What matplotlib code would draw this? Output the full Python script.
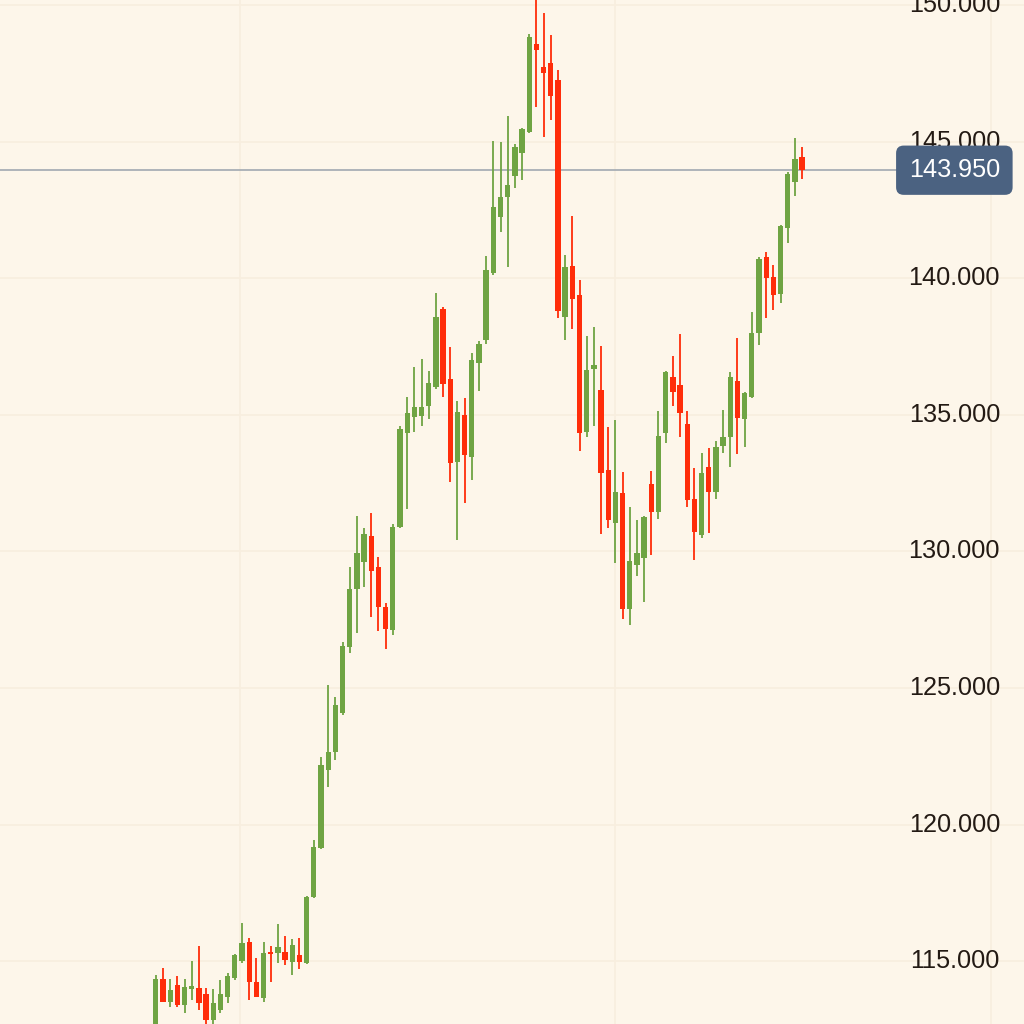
import numpy as np
import matplotlib
matplotlib.use("Agg")
import matplotlib.pyplot as plt

# OHLC, one entry per candle (oldest first)
opens = [112.20, 114.34, 113.52, 114.13, 113.40, 113.97, 114.01, 113.79, 112.85, 113.21,
         113.70, 114.37, 115.02, 115.71, 114.25, 113.64, 115.35, 115.31, 115.35, 114.98,
         115.23, 114.92, 117.36, 119.13, 121.99, 122.67, 124.07, 126.51, 128.61, 129.62,
         130.57, 129.44, 127.98, 127.12, 130.90, 134.32, 134.93, 134.95, 135.32, 136.01,
         138.86, 136.30, 133.28, 134.99, 133.47, 136.88, 137.74, 140.18, 142.25, 142.98,
         143.72, 144.57, 145.36, 148.56, 147.74, 147.89, 147.25, 138.59, 140.45, 139.39,
         134.38, 136.66, 135.91, 132.98, 131.03, 132.15, 127.88, 129.50, 129.75, 132.45,
         131.45, 134.32, 136.39, 136.09, 134.66, 131.91, 130.60, 133.10, 132.19, 133.86,
         134.20, 136.25, 134.84, 135.64, 138.00, 140.76, 140.03, 139.42, 141.83, 143.53,
         144.42]
highs = [114.50, 114.74, 114.35, 114.46, 114.34, 115.00, 115.57, 114.00, 113.97, 114.31,
         114.56, 115.25, 116.39, 115.84, 115.11, 115.71, 115.56, 116.36, 115.92, 115.80,
         115.84, 117.40, 119.44, 122.49, 125.11, 124.68, 126.70, 129.44, 131.30, 130.85,
         131.39, 129.81, 128.10, 131.00, 134.59, 135.64, 136.76, 137.03, 136.61, 139.45,
         138.93, 137.49, 135.52, 135.60, 137.27, 137.71, 140.81, 145.03, 145.00, 145.94,
         144.91, 145.50, 148.93, 150.40, 149.72, 148.90, 147.62, 140.85, 142.28, 139.93,
         137.88, 138.20, 137.52, 134.54, 134.81, 132.92, 131.64, 131.15, 131.30, 132.95,
         135.15, 136.61, 137.15, 137.96, 135.15, 133.04, 133.61, 133.77, 134.05, 135.18,
         136.58, 137.80, 135.85, 138.77, 140.76, 140.97, 140.48, 141.95, 143.90, 145.12,
         144.79]
lows = [112.00, 113.50, 113.33, 113.33, 113.10, 113.58, 113.20, 112.70, 112.60, 113.09,
        113.46, 114.30, 114.95, 113.58, 113.70, 113.52, 114.25, 114.95, 114.86, 114.50,
        114.70, 114.90, 117.30, 119.10, 121.37, 122.37, 124.00, 126.29, 127.00, 128.69,
        127.59, 127.10, 126.42, 126.94, 130.85, 131.55, 134.35, 134.57, 134.83, 135.95,
        135.64, 132.55, 130.42, 131.78, 132.61, 135.88, 137.60, 140.10, 141.70, 140.42,
        143.29, 143.59, 145.30, 146.26, 145.18, 145.77, 138.53, 137.74, 138.13, 133.69,
        134.20, 134.59, 130.64, 130.85, 129.59, 127.51, 127.31, 129.10, 128.16, 129.87,
        131.17, 133.98, 135.32, 134.18, 131.61, 129.68, 130.48, 130.68, 131.91, 133.61,
        133.08, 133.57, 133.81, 135.60, 137.55, 138.54, 138.84, 139.08, 141.30, 143.01,
        143.62]
closes = [114.35, 113.52, 113.93, 113.40, 114.05, 114.10, 113.46, 112.85, 113.46, 113.78,
          114.46, 115.23, 115.65, 114.25, 113.70, 115.29, 115.27, 115.53, 115.04, 115.59,
          114.98, 117.36, 119.19, 122.18, 122.64, 124.38, 126.54, 128.61, 129.93, 130.64,
          129.29, 127.98, 127.15, 130.90, 134.47, 135.05, 135.27, 135.29, 136.15, 138.59,
          136.13, 133.25, 135.11, 133.53, 137.01, 137.59, 140.28, 142.62, 142.98, 143.41,
          144.81, 145.45, 148.84, 148.35, 147.50, 146.67, 138.81, 140.42, 139.23, 134.34,
          136.64, 136.81, 132.86, 131.15, 132.19, 127.88, 129.63, 129.93, 131.27, 131.45,
          134.22, 136.56, 135.85, 135.08, 131.88, 130.72, 132.88, 132.19, 133.83, 134.20,
          136.39, 134.87, 135.81, 138.00, 140.69, 139.99, 139.39, 141.91, 143.81, 144.35,
          143.95]
last_price = 143.95
price_ticks = [115, 120, 125, 130, 135, 140, 145, 150]
week_lines = [11.75, 64.0, 116.25]

bg = "#FDF6EA"
grid_col = "#F8EEDF"
up_col = "#6FA443"
down_col = "#FF2D0A"

plt.rcParams["font.family"] = ["Liberation Sans", "DejaVu Sans"]

fig = plt.figure(figsize=(10.24, 10.24), dpi=100, facecolor=bg)
ax = fig.add_axes([0, 0, 1, 1])
ax.set_facecolor(bg)
ax.set_xlim(-21.7, 120.9)
ax.set_ylim(112.70, 150.18)
ax.axis("off")

for p in price_ticks:
    ax.axhline(p, color=grid_col, lw=1.2, zorder=0)
for w in week_lines:
    ax.axvline(w, color=grid_col, lw=1.2, zorder=0)

o = np.array(opens)
h = np.array(highs)
l = np.array(lows)
c = np.array(closes)
x = np.arange(len(o))
up = c >= o
colors = np.where(up, up_col, down_col)

ax.vlines(x, l, h, colors=colors, lw=1.3, zorder=2)
body_lo = np.minimum(o, c)
body_h = np.maximum(np.abs(c - o), 0.08)
ax.bar(x, body_h, bottom=body_lo, width=0.74, color=colors, zorder=3)

# last price line + label
ax.plot([-21.7, 103.5], [last_price, last_price], color="#A8AEB5", lw=1.3, zorder=1)

for p in price_ticks:
    ax.text(111.2, p, f"{p:.3f}", ha="center", va="center", fontsize=18.2,
            color="#231A14", zorder=4)

ax.text(111.2, last_price, f"{last_price:.3f}", ha="center", va="center",
        fontsize=18.2, color="white", zorder=5,
        bbox=dict(boxstyle="round,pad=0.5,rounding_size=0.3", fc="#4B6281", ec="none"))

fig.savefig("out.png", dpi=100, facecolor=bg)
